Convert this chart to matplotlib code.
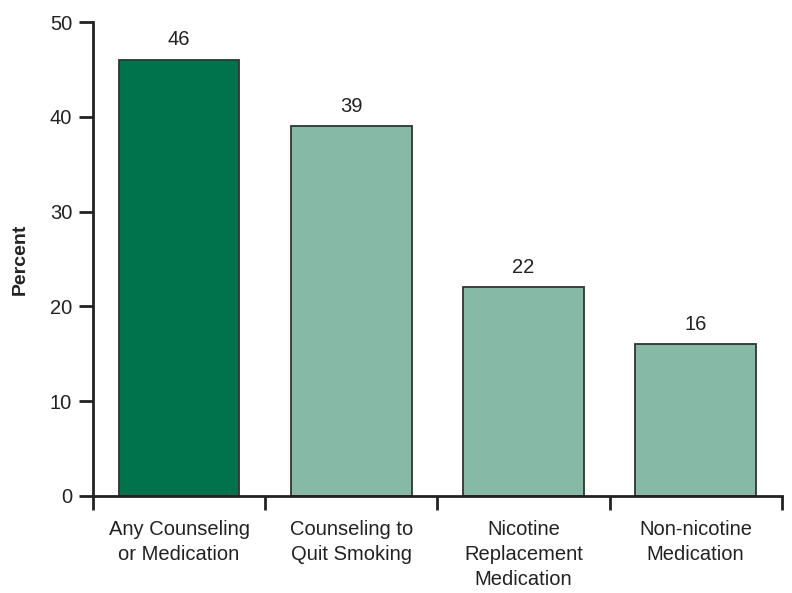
import numpy as np
import matplotlib.pyplot as plt

categories = ["Any Counseling\nor Medication", "Counseling to\nQuit Smoking",
              "Nicotine\nReplacement\nMedication", "Non-nicotine\nMedication"]
values = [46, 39, 22, 16]
colors = ["#00734C", "#86BAA7", "#86BAA7", "#86BAA7"]

plt.rcParams['font.family'] = ['Liberation Sans', 'DejaVu Sans']

fig = plt.figure(figsize=(7.92, 5.93), dpi=100)
ax = fig.add_axes([0.1174, 0.1636, 0.8696, 0.7993])

x = np.arange(len(values))
ax.bar(x, values, width=0.70, color=colors, edgecolor="#333333", linewidth=1.3, zorder=2)
for xi, v in zip(x, values):
    ax.text(xi, v + 1.1, str(v), ha="center", va="bottom", fontsize=14.5, color="#222222")

ax.set_xlim(-0.5, 3.5)
ax.set_ylim(0, 50)
ax.set_yticks([0, 10, 20, 30, 40, 50])
ax.set_xticks(x)
ax.set_xticklabels(categories, linespacing=1.42)
ax.set_xticks(np.arange(-0.5, 4.0, 1.0), minor=True)
ax.tick_params(axis="x", which="major", length=0, pad=17, labelsize=14.5, colors="#222222")
ax.tick_params(axis="x", which="minor", length=10, width=2, direction="out", color="#222222")
ax.tick_params(axis="y", length=10, width=2, direction="out", labelsize=14.5, pad=5, colors="#222222")

for s in ["top", "right"]:
    ax.spines[s].set_visible(False)
for s in ["left", "bottom"]:
    ax.spines[s].set_linewidth(2)
    ax.spines[s].set_color("#222222")

ax.set_ylabel("Percent", fontsize=14, fontweight="bold", labelpad=15, color="#222222")

fig.savefig("out.png", dpi=100)
